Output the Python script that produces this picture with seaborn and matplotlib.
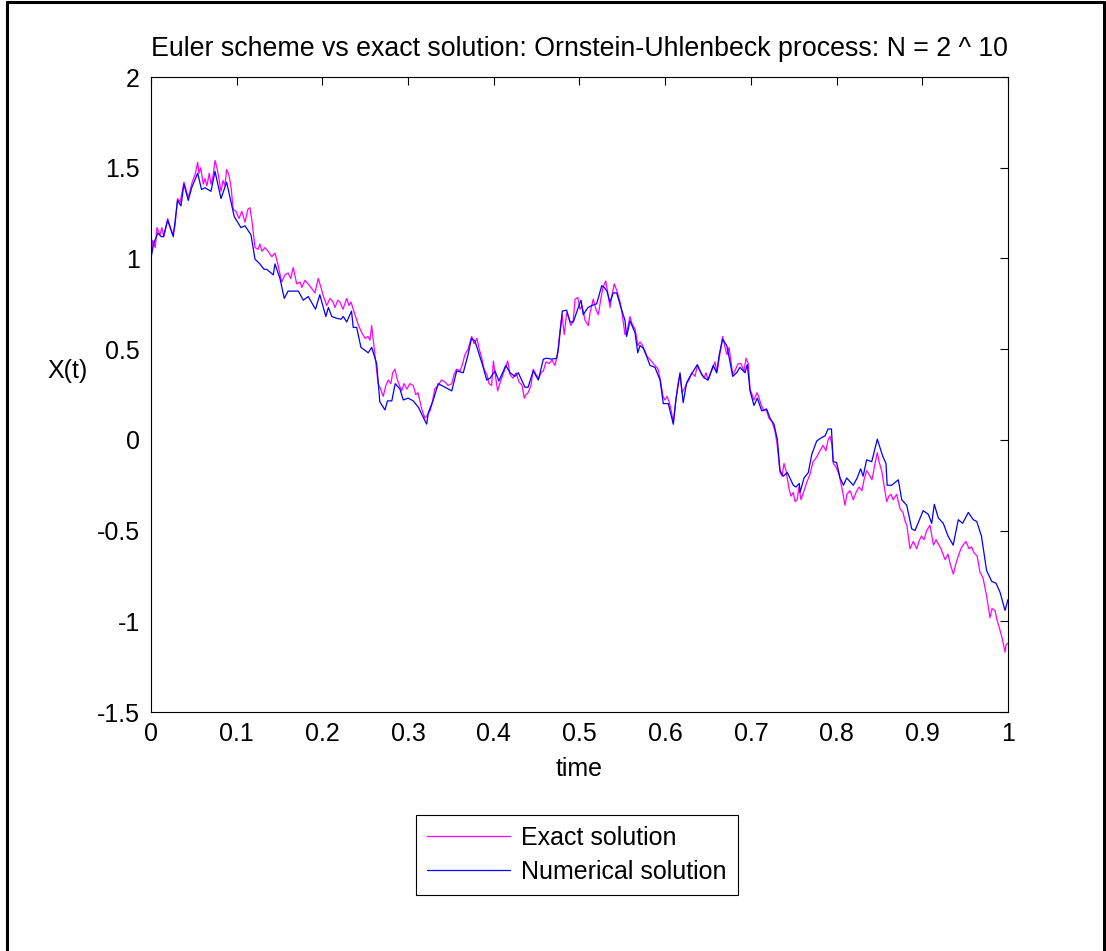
import matplotlib
matplotlib.use("Agg")
import matplotlib.pyplot as plt
from matplotlib.lines import Line2D
import pandas as pd
import seaborn as sns

# ── Data ─────────────────────────────────────────────────────────────────────
# Numerical (Euler) solution, blue
t_num = [
    0.000, 0.003, 0.008, 0.012, 0.0144, 0.0195, 0.026, 0.031, 0.035, 0.0385,
    0.0435, 0.0475, 0.0545, 0.059, 0.063, 0.070, 0.0747, 0.0817, 0.0883, 0.0972,
    0.105, 0.1097, 0.1167, 0.1214, 0.127, 0.132, 0.135, 0.1427, 0.1447, 0.1505,
    0.1555, 0.160, 0.172, 0.1777, 0.1835, 0.192, 0.197, 0.204, 0.207, 0.211,
    0.2167, 0.2217, 0.2244, 0.2284, 0.234, 0.236, 0.240, 0.245, 0.2535, 0.2575,
    0.2634, 0.267, 0.273, 0.276, 0.281, 0.285, 0.2905, 0.2944, 0.300, 0.306,
    0.312, 0.3197, 0.3217, 0.3236, 0.3294, 0.3352, 0.343, 0.351, 0.3567, 0.3644,
    0.370, 0.374, 0.378, 0.3877, 0.3917, 0.3956, 0.4014, 0.406, 0.414, 0.419,
    0.4247, 0.4286, 0.4364, 0.440, 0.446, 0.452, 0.4578, 0.4617, 0.4676, 0.4734,
    0.4753, 0.480, 0.485, 0.489, 0.4928, 0.4986, 0.5018, 0.5044, 0.510, 0.514,
    0.520, 0.526, 0.529, 0.532, 0.5356, 0.5394, 0.5434, 0.549, 0.553, 0.555,
    0.559, 0.5648, 0.568, 0.5706, 0.5745, 0.5784, 0.5823, 0.588, 0.594, 0.5978,
    0.6036, 0.6095, 0.6126, 0.6173, 0.621, 0.625, 0.629, 0.6375, 0.6426, 0.6464,
    0.650, 0.656, 0.660, 0.6631, 0.667, 0.6718, 0.6748, 0.6788, 0.6834, 0.6873,
    0.6931, 0.6958, 0.699, 0.7036, 0.7075, 0.7126, 0.7184, 0.7223, 0.727, 0.7308,
    0.734, 0.7378, 0.7425, 0.7495, 0.7526, 0.7565, 0.7573, 0.762, 0.767, 0.771,
    0.7768, 0.7826, 0.7865, 0.790, 0.794, 0.796, 0.800, 0.804, 0.808, 0.8118,
    0.8195, 0.824, 0.828, 0.831, 0.835, 0.841, 0.8475, 0.8538, 0.8576, 0.859,
    0.8643, 0.872, 0.876, 0.8818, 0.8876, 0.8915, 0.901, 0.907, 0.911, 0.914,
    0.9186, 0.9245, 0.930, 0.936, 0.942, 0.947, 0.9537, 0.9595, 0.9635, 0.969,
    0.975, 0.981, 0.986, 0.9907, 0.9965, 1.000,
]
x_num = [
    1.00, 1.08, 1.14, 1.12, 1.12, 1.21, 1.12, 1.32, 1.29, 1.41,
    1.32, 1.39, 1.47, 1.38, 1.39, 1.37, 1.48, 1.33, 1.42, 1.23,
    1.17, 1.18, 1.13, 0.996, 0.97, 0.94, 0.94, 0.91, 0.97, 0.89,
    0.78, 0.82, 0.82, 0.77, 0.79, 0.72, 0.80, 0.68, 0.73, 0.68,
    0.67, 0.665, 0.68, 0.65, 0.71, 0.62, 0.62, 0.51, 0.48, 0.51,
    0.42, 0.21, 0.165, 0.215, 0.215, 0.31, 0.28, 0.22, 0.23, 0.215,
    0.18, 0.105, 0.087, 0.15, 0.22, 0.31, 0.29, 0.27, 0.38, 0.37,
    0.47, 0.56, 0.545, 0.40, 0.33, 0.34, 0.38, 0.325, 0.41, 0.37,
    0.35, 0.37, 0.29, 0.29, 0.38, 0.33, 0.445, 0.45, 0.445, 0.45,
    0.50, 0.71, 0.715, 0.65, 0.65, 0.73, 0.77, 0.69, 0.73, 0.74,
    0.75, 0.85, 0.84, 0.82, 0.76, 0.81, 0.81, 0.72, 0.66, 0.57,
    0.656, 0.59, 0.48, 0.52, 0.505, 0.46, 0.41, 0.40, 0.33, 0.20,
    0.20, 0.086, 0.225, 0.37, 0.205, 0.315, 0.35, 0.415, 0.36, 0.34,
    0.33, 0.41, 0.37, 0.47, 0.555, 0.52, 0.45, 0.35, 0.37, 0.40,
    0.37, 0.415, 0.27, 0.19, 0.23, 0.16, 0.17, 0.12, 0.086, 0.004,
    -0.17, -0.20, -0.18, -0.25, -0.26, -0.24, -0.29, -0.21, -0.18, -0.08,
    -0.006, 0.013, 0.022, 0.06, 0.06, -0.12, -0.125, -0.21, -0.25, -0.21,
    -0.25, -0.21, -0.16, -0.20, -0.11, -0.12, 0.004, -0.09, -0.13, -0.25,
    -0.25, -0.22, -0.33, -0.36, -0.49, -0.50, -0.39, -0.41, -0.46, -0.355,
    -0.43, -0.46, -0.53, -0.58, -0.44, -0.46, -0.40, -0.44, -0.45, -0.53,
    -0.72, -0.78, -0.79, -0.84, -0.94, -0.88,
]

# Exact solution, magenta
t_exact = [
    0.000, 0.002, 0.005, 0.007, 0.0105, 0.0127, 0.015, 0.0195, 0.022, 0.0255,
    0.028, 0.031, 0.034, 0.036, 0.0385, 0.042, 0.044, 0.048, 0.0513, 0.0545,
    0.056, 0.058, 0.061, 0.063, 0.0653, 0.068, 0.070, 0.0723, 0.0747, 0.077,
    0.0793, 0.0817, 0.084, 0.0863, 0.0883, 0.091, 0.0933, 0.096, 0.0992, 0.1027,
    0.106, 0.1097, 0.113, 0.1155, 0.118, 0.1214, 0.125, 0.127, 0.1295, 0.133,
    0.1365, 0.141, 0.1447, 0.148, 0.1525, 0.1564, 0.160, 0.163, 0.166, 0.170,
    0.174, 0.176, 0.1797, 0.1832, 0.1867, 0.1914, 0.1952, 0.1984, 0.2007, 0.205,
    0.2089, 0.2123, 0.2147, 0.218, 0.2205, 0.224, 0.2284, 0.231, 0.2334, 0.238,
    0.2415, 0.245, 0.2497, 0.2532, 0.2555, 0.2575, 0.2603, 0.265, 0.268, 0.271,
    0.274, 0.277, 0.280, 0.282, 0.2847, 0.287, 0.289, 0.2925, 0.2952, 0.2987,
    0.302, 0.306, 0.309, 0.3116, 0.3159, 0.3197, 0.3232, 0.3256, 0.328, 0.331,
    0.335, 0.339, 0.343, 0.3466, 0.351, 0.3536, 0.3567, 0.3606, 0.363, 0.3664,
    0.370, 0.3742, 0.377, 0.3804, 0.383, 0.386, 0.3886, 0.392, 0.3944, 0.3975,
    0.3995, 0.4014, 0.4045, 0.407, 0.4107, 0.413, 0.4162, 0.419, 0.4224, 0.426,
    0.4294, 0.433, 0.4356, 0.4376, 0.440, 0.4434, 0.446, 0.4492, 0.4527, 0.455,
    0.4578, 0.461, 0.4644, 0.468, 0.4714, 0.4746, 0.4772, 0.4796, 0.4822, 0.485,
    0.4877, 0.490, 0.4928, 0.4948, 0.498, 0.5006, 0.503, 0.5064, 0.5103, 0.5123,
    0.516, 0.5192, 0.522, 0.525, 0.5274, 0.5306, 0.5333, 0.5356, 0.538, 0.5406,
    0.5438, 0.5473, 0.5496, 0.5531, 0.5556, 0.5589, 0.5613, 0.5648, 0.5683, 0.5706,
    0.573, 0.5764, 0.5788, 0.581, 0.5846, 0.588, 0.5916, 0.594, 0.5974, 0.5998,
    0.602, 0.6046, 0.607, 0.6095, 0.6114, 0.615, 0.6173, 0.6196, 0.622, 0.625,
    0.6278, 0.631, 0.6348, 0.6375, 0.6406, 0.643, 0.6453, 0.6476, 0.650, 0.6523,
    0.656, 0.658, 0.6604, 0.663, 0.667, 0.6698, 0.672, 0.6745, 0.6788, 0.6814,
    0.685, 0.6885, 0.692, 0.6943, 0.697, 0.699, 0.7036, 0.707, 0.709, 0.7115,
    0.715, 0.7176, 0.721, 0.7246, 0.728, 0.7305, 0.734, 0.7363, 0.7386, 0.741,
    0.7445, 0.7468, 0.7495, 0.7515, 0.754, 0.756, 0.7585, 0.762, 0.7655, 0.769,
    0.7725, 0.776, 0.7807, 0.7841, 0.7876, 0.790, 0.7923, 0.7946, 0.7962, 0.7993,
    0.8028, 0.806, 0.8098, 0.812, 0.8156, 0.8195, 0.8226, 0.826, 0.8296, 0.832,
    0.835, 0.8378, 0.8413, 0.8448, 0.8475, 0.8495, 0.8526, 0.8553, 0.8585, 0.861,
    0.8635, 0.866, 0.8701, 0.874, 0.8775, 0.880, 0.882, 0.8856, 0.8895, 0.8935,
    0.896, 0.899, 0.902, 0.9051, 0.909, 0.913, 0.916, 0.9183, 0.9218, 0.9265,
    0.930, 0.9323, 0.9362, 0.9393, 0.942, 0.945, 0.9475, 0.951, 0.9545, 0.9576,
    0.960, 0.964, 0.9673, 0.9708, 0.975, 0.9767, 0.979, 0.9813, 0.9848, 0.987,
    0.9907, 0.993, 0.9965, 0.9977, 1.000,
]
x_exact = [
    1.00, 1.10, 1.06, 1.17, 1.13, 1.17, 1.12, 1.22, 1.18, 1.13,
    1.18, 1.33, 1.31, 1.36, 1.42, 1.36, 1.34, 1.42, 1.46, 1.53,
    1.47, 1.50, 1.41, 1.44, 1.40, 1.47, 1.41, 1.45, 1.54, 1.50,
    1.44, 1.37, 1.43, 1.40, 1.49, 1.46, 1.40, 1.27, 1.26, 1.22,
    1.26, 1.20, 1.27, 1.28, 1.20, 1.06, 1.05, 1.08, 1.04, 1.06,
    1.04, 1.01, 1.03, 0.97, 0.87, 0.91, 0.92, 0.89, 0.95, 0.86,
    0.87, 0.84, 0.88, 0.86, 0.84, 0.81, 0.89, 0.84, 0.80, 0.74,
    0.78, 0.76, 0.73, 0.77, 0.76, 0.72, 0.78, 0.74, 0.76, 0.69,
    0.64, 0.60, 0.56, 0.57, 0.55, 0.63, 0.51, 0.31, 0.28, 0.24,
    0.30, 0.33, 0.31, 0.37, 0.39, 0.34, 0.31, 0.27, 0.31, 0.28,
    0.31, 0.30, 0.25, 0.26, 0.17, 0.12, 0.14, 0.16, 0.20, 0.28,
    0.30, 0.33, 0.32, 0.30, 0.31, 0.36, 0.39, 0.38, 0.41, 0.47,
    0.50, 0.57, 0.53, 0.56, 0.50, 0.45, 0.39, 0.36, 0.31, 0.30,
    0.435, 0.37, 0.27, 0.31, 0.36, 0.39, 0.435, 0.36, 0.34, 0.37,
    0.32, 0.30, 0.23, 0.25, 0.26, 0.30, 0.39, 0.36, 0.34, 0.37,
    0.38, 0.43, 0.42, 0.44, 0.41, 0.48, 0.60, 0.69, 0.58, 0.70,
    0.67, 0.63, 0.66, 0.775, 0.785, 0.72, 0.74, 0.66, 0.63, 0.70,
    0.775, 0.72, 0.69, 0.78, 0.84, 0.876, 0.80, 0.73, 0.80, 0.86,
    0.82, 0.76, 0.70, 0.58, 0.60, 0.68, 0.64, 0.61, 0.52, 0.54,
    0.525, 0.49, 0.46, 0.45, 0.43, 0.41, 0.39, 0.34, 0.24, 0.22,
    0.24, 0.21, 0.16, 0.10, 0.18, 0.31, 0.36, 0.26, 0.28, 0.31,
    0.33, 0.37, 0.35, 0.41, 0.38, 0.36, 0.34, 0.37, 0.33, 0.36,
    0.40, 0.43, 0.37, 0.45, 0.57, 0.51, 0.47, 0.51, 0.36, 0.38,
    0.42, 0.42, 0.38, 0.45, 0.42, 0.28, 0.22, 0.26, 0.24, 0.20,
    0.16, 0.17, 0.12, 0.10, 0.05, -0.02, -0.18, -0.20, -0.13, -0.17,
    -0.27, -0.31, -0.29, -0.34, -0.33, -0.26, -0.33, -0.28, -0.23, -0.19,
    -0.12, -0.10, -0.06, -0.03, -0.06, 0.00, 0.02, -0.03, -0.13, -0.15,
    -0.19, -0.26, -0.36, -0.30, -0.28, -0.33, -0.29, -0.26, -0.28, -0.22,
    -0.17, -0.19, -0.22, -0.13, -0.07, -0.12, -0.17, -0.25, -0.34, -0.31,
    -0.30, -0.33, -0.30, -0.38, -0.40, -0.45, -0.47, -0.60, -0.56, -0.60,
    -0.56, -0.53, -0.55, -0.50, -0.47, -0.58, -0.55, -0.57, -0.60, -0.66,
    -0.63, -0.68, -0.74, -0.68, -0.64, -0.60, -0.58, -0.56, -0.60, -0.59,
    -0.62, -0.64, -0.73, -0.76, -0.86, -0.91, -0.98, -0.93, -0.94, -0.99,
    -1.05, -1.09, -1.17, -1.13, -1.12,
]

x_ticks = [0, 0.1, 0.2, 0.3, 0.4, 0.5, 0.6, 0.7, 0.8, 0.9, 1]
x_ticklabels = ["0", "0.1", "0.2", "0.3", "0.4", "0.5", "0.6", "0.7", "0.8", "0.9", "1"]
y_ticks = [-1.5, -1, -0.5, 0, 0.5, 1, 1.5, 2]
y_ticklabels = ["-1.5", "-1", "-0.5", "0", "0.5", "1", "1.5", "2"]

TITLE = "Euler scheme vs exact solution: Ornstein-Uhlenbeck process: N = 2 ^ 10"
FS = 18

# ── Style ────────────────────────────────────────────────────────────────────
sns.set_theme(style="white")
plt.rcParams.update({
    "font.family": ["Liberation Sans", "DejaVu Sans"],
    "font.size": FS,
    "axes.edgecolor": "black",
    "axes.linewidth": 0.8,
    "xtick.color": "black",
    "ytick.color": "black",
    "text.color": "black",
    "axes.labelcolor": "black",
})

exact_df = pd.DataFrame({"time": t_exact, "X": x_exact})
num_df = pd.DataFrame({"time": t_num, "X": x_num})

fig = plt.figure(figsize=(11.06, 9.51), dpi=100)
fig.patch.set_facecolor("white")
ax = fig.add_axes([0.1365, 0.2513, 0.7749, 0.6677])

sns.lineplot(data=exact_df, x="time", y="X", color="#FF00FF", lw=0.9,
             sort=False, estimator=None, ax=ax)
sns.lineplot(data=num_df, x="time", y="X", color="#0000FF", lw=0.9,
             sort=False, estimator=None, ax=ax)

ax.set_xlim(0, 1)
ax.set_ylim(-1.5, 2)
ax.set_xticks(x_ticks)
ax.set_xticklabels(x_ticklabels)
ax.set_yticks(y_ticks)
ax.set_yticklabels(y_ticklabels)
ax.tick_params(direction="in", top=True, right=True, length=6, width=0.8,
               labelsize=FS)
ax.tick_params(axis="y", pad=8)
ax.tick_params(axis="x", pad=7)
for side in ax.spines.values():
    side.set_visible(True)
    side.set_color("black")

ax.set_title(TITLE, fontsize=19.3, pad=15)
ax.set_xlabel("time", fontsize=FS, labelpad=8)
ax.set_ylabel("X(t)", fontsize=FS, rotation=0)
ax.yaxis.set_label_coords(-0.097, 0.518)

handles = [
    Line2D([], [], color="#FF00FF", lw=0.9),
    Line2D([], [], color="#0000FF", lw=0.9),
]
leg = fig.legend(handles, ["Exact solution", "Numerical solution"],
                 loc="center", bbox_to_anchor=(0.5217, 0.101),
                 fontsize=FS, handlelength=3.3, handletextpad=0.45,
                 fancybox=False, framealpha=1, edgecolor="black",
                 borderpad=0.45, labelspacing=0.4)
leg.get_frame().set_linewidth(0.8)

# figure border (left, top, right)
for xs, ys in [([0.0065, 0.0065], [0.0, 0.998]),
               ([0.0065, 0.998], [0.998, 0.998]),
               ([0.998, 0.998], [0.0, 0.998])]:
    fig.add_artist(Line2D(xs, ys, color="black", lw=2.2,
                          transform=fig.transFigure))

fig.savefig("out.png", dpi=100, facecolor="white")
